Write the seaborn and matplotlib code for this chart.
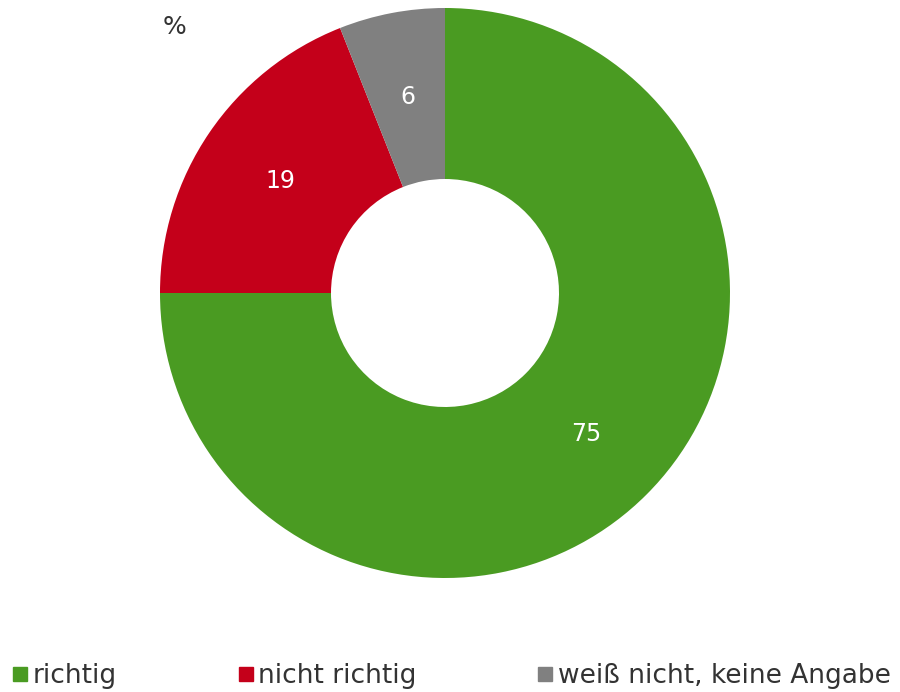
import matplotlib
matplotlib.use("Agg")
import matplotlib.pyplot as plt
import seaborn as sns
from matplotlib.lines import Line2D

sns.set_theme(style="white")
plt.rcParams['font.family'] = ['DejaVu Sans']

categories = ["richtig", "nicht richtig", "weiß nicht, keine Angabe"]
values = [75, 19, 6]
colors = ["#4a9b22", "#c4001a", "#808080"]

fig = plt.figure(figsize=(9, 6.92), dpi=100)
W, H = 900, 692
cx, cy, R = 445, 293, 285
ax = fig.add_axes([(cx - R) / W, 1 - (cy + R) / H, 2 * R / W, 2 * R / H])

wedges, texts = ax.pie(values, colors=colors, startangle=90, counterclock=False,
                       radius=1.0, labels=[str(v) for v in values],
                       labeldistance=0.7, wedgeprops=dict(width=0.6, linewidth=0),
                       textprops=dict(color="white", fontsize=17))
for t in texts:
    t.set_ha("center")
    t.set_va("center")
ax.set_aspect("equal")
ax.set_xlim(-1, 1)
ax.set_ylim(-1, 1)
ax.axis("off")

fig.text(175 / W, 1 - 27 / H, "%", fontsize=18, color="#333333", ha="center", va="center")

handles = [Line2D([0], [0], marker="s", linestyle="none", markersize=10.5,
                  markerfacecolor=c, markeredgecolor=c) for c in colors]
fig.legend(handles, categories, loc="center left", bbox_to_anchor=(13 / W, 1 - 676 / H),
           ncol=3, frameon=False, fontsize=19, handlelength=0.55, handletextpad=0.2,
           columnspacing=4.6, labelcolor="#333333", borderaxespad=0, borderpad=0)

fig.savefig("out.png", dpi=100, facecolor="white")
